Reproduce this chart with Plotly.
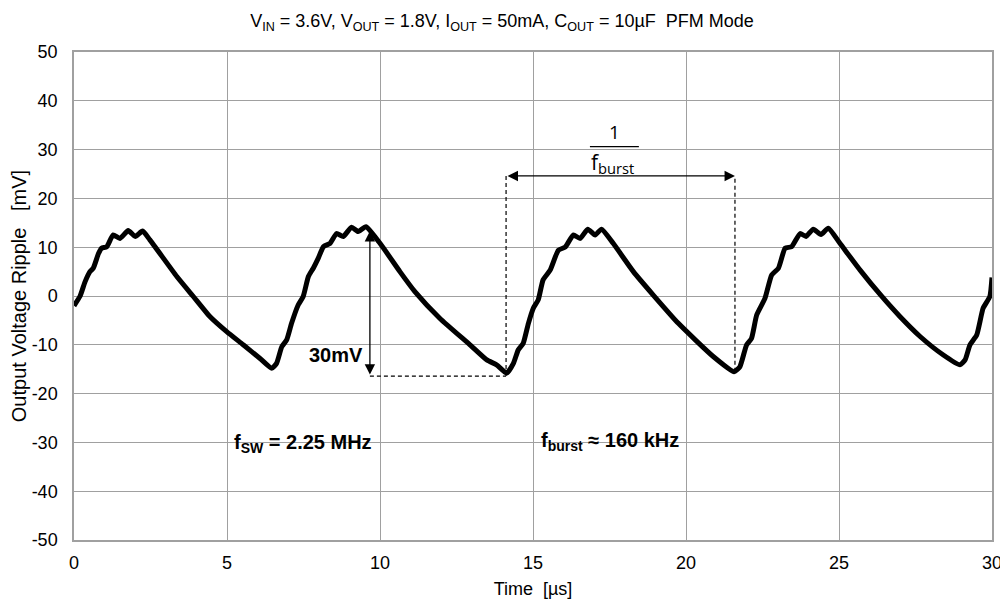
import plotly.graph_objects as go

# output ripple waveform
time_us = [0.0, 0.2, 0.36, 0.52, 0.63, 0.8, 0.9, 1.07, 1.28, 1.5, 1.77, 2.0, 2.24, 2.48,
           3.36, 3.9, 4.44, 4.99, 5.53, 6.08, 6.46, 6.62, 6.79, 6.95, 7.11, 7.33, 7.49,
           7.66, 7.82, 7.98, 8.15, 8.37, 8.58, 8.8, 9.07, 9.29, 9.54, 10.0, 10.65, 11.14,
           11.96, 12.94, 13.49, 13.81, 14.14, 14.36, 14.52, 14.68, 14.85, 15.01, 15.17,
           15.33, 15.56, 15.83, 16.05, 16.32, 16.54, 16.79, 17.03, 17.24, 17.62, 18.28,
           18.93, 19.75, 20.89, 21.57, 21.76, 21.98, 22.14, 22.31, 22.58, 22.8, 23.02,
           23.24, 23.45, 23.73, 23.92, 24.16, 24.41, 24.65, 25.03, 25.69, 26.4, 26.99,
           27.65, 28.41, 28.95, 29.12, 29.28, 29.5, 29.71, 29.93, 30.0]
ripple_mv = [-2.0, 0.0, 2.9, 5.0, 5.7, 8.7, 9.8, 10.1, 12.5, 11.8, 13.4, 12.2, 13.3, 11.5,
             4.0, -0.1, -4.2, -7.3, -10.0, -12.8, -14.8, -13.8, -10.4, -9.0, -5.6, -1.8, -0.1,
             4.0, 5.7, 7.7, 10.1, 10.8, 12.8, 12.2, 14.1, 13.2, 14.2, 10.8, 5.0, 0.9,
             -4.6, -10.0, -13.1, -14.1, -15.8, -13.8, -11.0, -9.7, -5.6, -2.5, -0.8,
             3.3, 5.3, 9.4, 10.0, 12.5, 11.8, 13.7, 12.5, 13.7, 10.8, 5.0,
             0.2, -5.6, -12.4, -15.5, -14.5, -10.0, -8.7, -3.9, -0.5, 4.3, 5.7,
             9.8, 10.1, 12.8, 12.2, 13.7, 12.6, 13.9, 10.8, 5.3, -0.1, -4.2,
             -8.3, -12.1, -14.1, -13.1, -10.0, -8.0, -2.5, -0.1, 3.8]

x_ticks = [0, 5, 10, 15, 20, 25, 30]
y_ticks = [-50, -40, -30, -20, -10, 0, 10, 20, 30, 40, 50]
y_tick_text = [str(v) for v in y_ticks]  # plain hyphen minus like the original

# annotation anchors (data units)
ripple_t, ripple_top, ripple_bottom = 9.67, 13.3, -16.4
burst_start, burst_end, burst_y = 14.12, 21.6, 24.6

FONT = "Liberation Sans, Arial, sans-serif"
FRAC_FONT = "Open Sans, sans-serif"
GRID = "#a0a0a0"
NBSP = "\u00a0"

fig = go.Figure()
fig.add_trace(go.Scatter(
    x=time_us, y=ripple_mv, mode="lines",
    line=dict(color="black", width=5, shape="spline", smoothing=0.5),
    showlegend=False, hoverinfo="skip",
))

dash = dict(color="black", width=1.2, dash="4px,3px")
# reference lines for the 30 mV and 1/f_burst markers
fig.add_shape(type="line", x0=ripple_t, x1=burst_start, y0=ripple_bottom, y1=ripple_bottom, line=dash)
fig.add_shape(type="line", x0=burst_start, x1=burst_start, y0=ripple_bottom, y1=burst_y, line=dash)
fig.add_shape(type="line", x0=burst_end, x1=burst_end, y0=-15.5, y1=burst_y, line=dash)
# fraction bar of 1/f_burst
fig.add_shape(type="line", x0=16.86, x1=18.46, y0=30.6, y1=30.6, line=dict(color="black", width=1.3))

arrow = dict(xref="x", yref="y", axref="x", ayref="y", text="", showarrow=True,
             arrowhead=2, arrowsize=1.6, arrowwidth=1.3, arrowcolor="black",
             arrowside="end+start")
fig.add_annotation(x=ripple_t, y=ripple_top, ax=ripple_t, ay=ripple_bottom, **arrow)
fig.add_annotation(x=burst_end, y=burst_y, ax=burst_start, ay=burst_y, **arrow)

fig.add_annotation(x=8.55, y=-12.0, text="<b>30mV</b>", showarrow=False,
                   font=dict(family=FONT, size=20, color="black"))
fig.add_annotation(x=17.65, y=33.7, text="1", showarrow=False,
                   font=dict(family=FRAC_FONT, size=19, color="black"))
fig.add_annotation(x=17.6, y=27.3, text="f<sub>burst</sub>", showarrow=False,
                   font=dict(family=FRAC_FONT, size=21, color="black"))
fig.add_annotation(x=7.48, y=-30.3, text="<b>f<sub>SW</sub> = 2.25 MHz</b>", showarrow=False,
                   font=dict(family=FONT, size=20, color="black"))
fig.add_annotation(x=17.5, y=-29.8, text="<b>f<sub>burst</sub> ≈ 160 kHz</b>", showarrow=False,
                   font=dict(family=FONT, size=20, color="black"))

# the page body adds an 8px offset, so the figure is 8px smaller than the window
fig.update_layout(
    width=1000, height=591,
    paper_bgcolor="white", plot_bgcolor="white",
    margin=dict(l=66, r=16, t=44, b=59),
    font=dict(family=FONT, size=18, color="black"),
    title=dict(
        text="V<sub>IN</sub> = 3.6V, V<sub>OUT</sub> = 1.8V, I<sub>OUT</sub> = 50mA, "
             "C<sub>OUT</sub> = 10µF" + NBSP * 2 + "PFM Mode",
        x=0.494, xref="container", xanchor="center",
        y=0.978, yref="container", yanchor="middle",
        font=dict(family=FONT, size=18, color="black"),
    ),
)
fig.update_xaxes(
    range=[0, 30], tickvals=x_ticks, showgrid=True, gridcolor=GRID, gridwidth=1.3,
    showline=True, linecolor=GRID, linewidth=1.5, mirror=True, zeroline=False,
    ticks="", ticklabelstandoff=6, automargin=False,
    tickfont=dict(family=FONT, size=18),
    title=dict(text="Time" + NBSP * 2 + "[µs]", font=dict(family=FONT, size=18), standoff=10),
)
fig.update_yaxes(
    range=[-50, 50], tickvals=y_ticks, ticktext=y_tick_text, showgrid=True,
    gridcolor=GRID, gridwidth=1.3,
    showline=True, linecolor=GRID, linewidth=1.5, mirror=True, zeroline=False,
    ticks="", ticklabelstandoff=11, automargin=False,
    tickfont=dict(family=FONT, size=18),
    title=dict(text="Output Voltage Ripple" + NBSP * 3 + "[mV]",
               font=dict(family=FONT, size=20), standoff=2),
)

fig.write_html("out.html")
